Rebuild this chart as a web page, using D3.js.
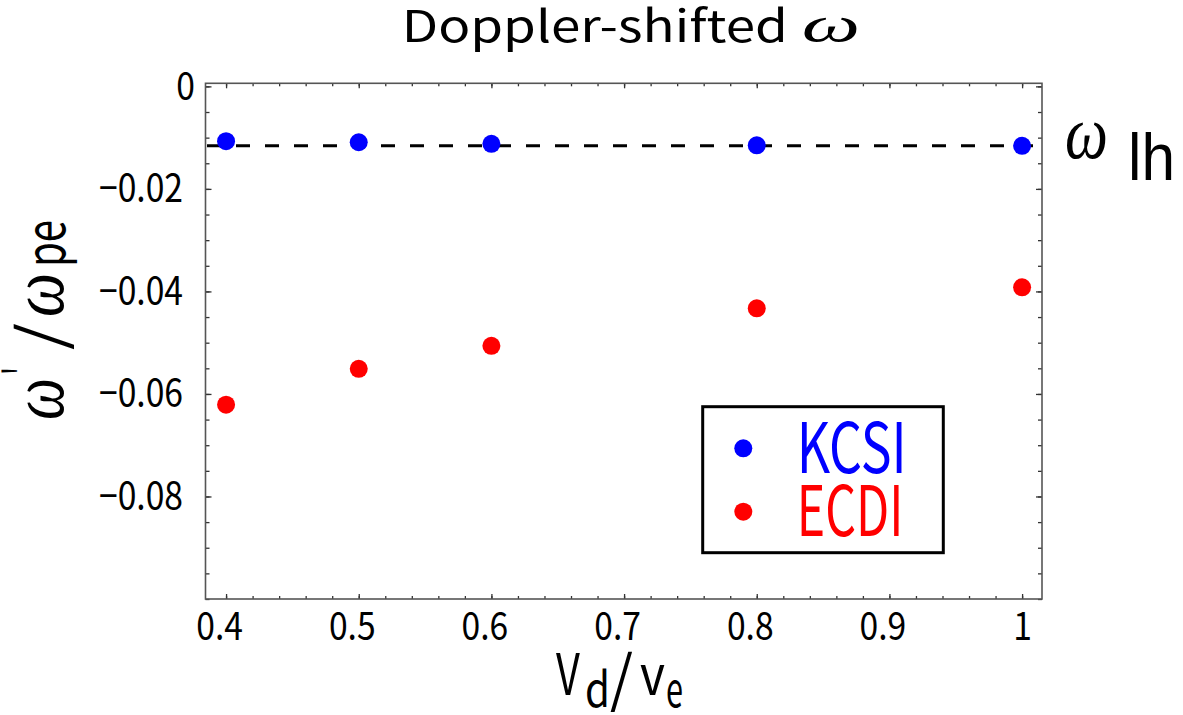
<!DOCTYPE html>
<html>
<head>
<meta charset="utf-8">
<script src="https://cdn.jsdelivr.net/npm/d3@7"></script>
<style>
  body { margin: 0; background: #fff; }
  svg { display: block; }
</style>
</head>
<body>
<svg id="chart" width="1183" height="715"></svg>
<script>
// Drift speed V_d/v_e for each simulation run
const speeds = [0.4, 0.5, 0.6, 0.8, 1.0];
// Doppler-shifted frequency ω'/ω_pe for each instability
const kcsi = [-0.0107, -0.0109, -0.0112, -0.0115, -0.0116];
const ecdi = [-0.0621, -0.0551, -0.0506, -0.0433, -0.0392];
// Lower-hybrid frequency reference level
const omegaLH = -0.0116;

const seriesNames = ["KCSI", "ECDI"];
const seriesColors = ["#0000ff", "#ff0000"];

const xTicks = [0.4, 0.5, 0.6, 0.7, 0.8, 0.9, 1.0];
const xTickLabels = ["0.4", "0.5", "0.6", "0.7", "0.8", "0.9", "1"];
const yTicks = [0, -0.02, -0.04, -0.06, -0.08];
const yTickLabels = ["0", "\u22120.02", "\u22120.04", "\u22120.06", "\u22120.08"];

const W = 1183, H = 715;
const frame = { left: 205.5, right: 1042, top: 83.3, bottom: 599 };
const xDomain = [0.3845, 1.015];
const yDomain = [-0.1, 0.0006];

const SANS = "'Noto Sans CJK JP', 'Noto Sans', sans-serif";
const PLAIN = "'Liberation Sans', Arimo, sans-serif";
const GREEK = "'Liberation Serif', 'DejaVu Serif', serif";

const svg = d3.select("#chart");
svg.append("rect").attr("width", W).attr("height", H).attr("fill", "#fff");

const x = d3.scaleLinear().domain(xDomain).range([frame.left, frame.right]);
const y = d3.scaleLinear().domain(yDomain).range([frame.bottom, frame.top]);

// Place a text so that its advance box spans [x0, x1] horizontally on a given baseline
function placeText(parent, str, o) {
  const g = parent.append("g");
  const t = g.append("text").text(str)
    .attr("font-family", o.family || SANS)
    .attr("font-size", o.size)
    .attr("font-style", o.italic ? "italic" : null)
    .attr("fill", o.color || "#000");
  const bb = t.node().getBBox();
  const s = (o.x1 - o.x0) / bb.width;
  g.attr("transform", `translate(${o.x0 - bb.x * s},${o.base}) scale(${s},1)`);
  return g;
}

// ---- frame ticks (inward on all four sides) ----
const minorX = d3.range(0.40, 1.0001, 0.02).filter(v => v >= xDomain[0] && v <= xDomain[1]);
const minorY = d3.range(-0.1, 0.00001, 0.005).map(v => +v.toFixed(3));
const tickColor = "#333";

function styleTicks(g) {
  g.select(".domain").remove();
  g.selectAll(".tick line").attr("stroke", tickColor).attr("stroke-width", 1.3);
}

function minorAxis(axis, transform) {
  const g = svg.append("g").attr("transform", transform).call(axis.tickFormat(""));
  styleTicks(g);
  g.selectAll("text").remove();
}

minorAxis(d3.axisBottom(x).tickValues(minorX).tickSize(-3), `translate(0,${frame.bottom})`);
minorAxis(d3.axisTop(x).tickValues(minorX).tickSize(-3), `translate(0,${frame.top})`);
minorAxis(d3.axisLeft(y).tickValues(minorY).tickSize(-4), `translate(${frame.left},0)`);
minorAxis(d3.axisRight(y).tickValues(minorY).tickSize(-4), `translate(${frame.right},0)`);

minorAxis(d3.axisTop(x).tickValues(xTicks).tickSize(-5), `translate(0,${frame.top})`);
minorAxis(d3.axisRight(y).tickValues(yTicks).tickSize(-6), `translate(${frame.right},0)`);

const gx = svg.append("g").attr("transform", `translate(0,${frame.bottom})`)
  .call(d3.axisBottom(x).tickValues(xTicks).tickSize(-5)
    .tickFormat(v => xTickLabels[xTicks.indexOf(v)]));
styleTicks(gx);
const gy = svg.append("g").attr("transform", `translate(${frame.left},0)`)
  .call(d3.axisLeft(y).tickValues(yTicks).tickSize(-6)
    .tickFormat(v => yTickLabels[yTicks.indexOf(v)]));
styleTicks(gy);

const tickFont = 39;
gx.selectAll("text").attr("font-family", SANS).attr("font-size", tickFont)
  .attr("fill", "#000").attr("dy", null);
gy.selectAll("text").attr("font-family", SANS).attr("font-size", tickFont)
  .attr("fill", "#000").attr("dy", null);

// narrow the tick numerals horizontally
const refW = gx.select("text").node().getComputedTextLength();
const k = 46.7 / refW;
gx.selectAll("text").each(function () {
  const s = d3.select(this);
  const dec = s.text().includes(".");
  s.attr("transform", `scale(${k},1)`).attr("x", (dec ? -7 : 0) / k).attr("y", 41);
});
gy.selectAll("text").each(function () {
  const s = d3.select(this);
  const dec = s.text().includes(".");
  s.attr("transform", `scale(${k},1)`).attr("x", (dec ? -22.5 : -10.5) / k)
    .attr("y", 13).attr("text-anchor", "end");
});

// frame
svg.append("rect")
  .attr("x", frame.left).attr("y", frame.top)
  .attr("width", frame.right - frame.left).attr("height", frame.bottom - frame.top)
  .attr("fill", "none").attr("stroke", "#555").attr("stroke-width", 1.6);

// ---- lower-hybrid reference line ----
svg.append("line")
  .attr("x1", x(xDomain[0]) + 1.5).attr("x2", x(xDomain[1]))
  .attr("y1", y(omegaLH)).attr("y2", y(omegaLH))
  .attr("stroke", "#000").attr("stroke-width", 3)
  .attr("stroke-dasharray", "14,15");

// ---- data points ----
[kcsi, ecdi].forEach((vals, si) => {
  svg.append("g").selectAll("circle")
    .data(speeds.map((s, i) => ({ s, v: vals[i] })))
    .join("circle")
    .attr("cx", d => x(d.s)).attr("cy", d => y(d.v))
    .attr("r", 9).attr("fill", seriesColors[si]);
});

// ---- legend ----
const lg = svg.append("g");
lg.append("rect").attr("x", 702.7).attr("y", 406.7).attr("width", 240.6).attr("height", 146)
  .attr("fill", "#fff").attr("stroke", "#000").attr("stroke-width", 3);
const legendRows = [
  { cy: 448.3, base: 473.3, x1: 906.7 },
  { cy: 511.7, base: 535.7, x1: 903.3 }
];
seriesNames.forEach((name, i) => {
  lg.append("circle").attr("cx", 743.3).attr("cy", legendRows[i].cy).attr("r", 9)
    .attr("fill", seriesColors[i]);
  placeText(lg, name, { x0: 796.7, x1: legendRows[i].x1, base: legendRows[i].base,
    size: 69, color: seriesColors[i] });
});

// ---- title ----
placeText(svg, "Doppler-shifted", { x0: 401.7, x1: 788, base: 42, size: 44 });
placeText(svg, "\u03c9", { x0: 801.7, x1: 860, base: 42, size: 50, family: GREEK, italic: true });

// ---- ω_lh label ----
placeText(svg, "\u03c9", { x0: 1065, x1: 1108, base: 158, size: 76, family: GREEK, italic: true });
placeText(svg, "lh", { x0: 1128, x1: 1175, base: 180, size: 66, family: PLAIN });

// ---- x-axis label V_d/v_e ----
const xl = svg.append("g");
placeText(xl, "V", { x0: 556, x1: 580, base: 695, size: 57 });
placeText(xl, "d", { x0: 585, x1: 610, base: 707, size: 48 });
placeText(xl, "/", { x0: 610, x1: 633, base: 701, size: 62 });
placeText(xl, "v", { x0: 640, x1: 665, base: 695, size: 56 });
placeText(xl, "e", { x0: 666, x1: 683, base: 707, size: 48 });

// ---- y-axis label ω'/ω_pe (reads bottom to top) ----
const yl = svg.append("g").attr("transform", "translate(63,420) rotate(-90)");
placeText(yl, "\u03c9", { x0: 0, x1: 42, base: 0, size: 76, family: GREEK, italic: true });
placeText(yl, "'", { x0: 45, x1: 53, base: -20, size: 54 });
placeText(yl, "/", { x0: 70, x1: 97, base: 0, size: 62 });
placeText(yl, "\u03c9", { x0: 103, x1: 147, base: 0, size: 76, family: GREEK, italic: true });
placeText(yl, "pe", { x0: 153, x1: 200, base: 2, size: 54 });
</script>
</body>
</html>
